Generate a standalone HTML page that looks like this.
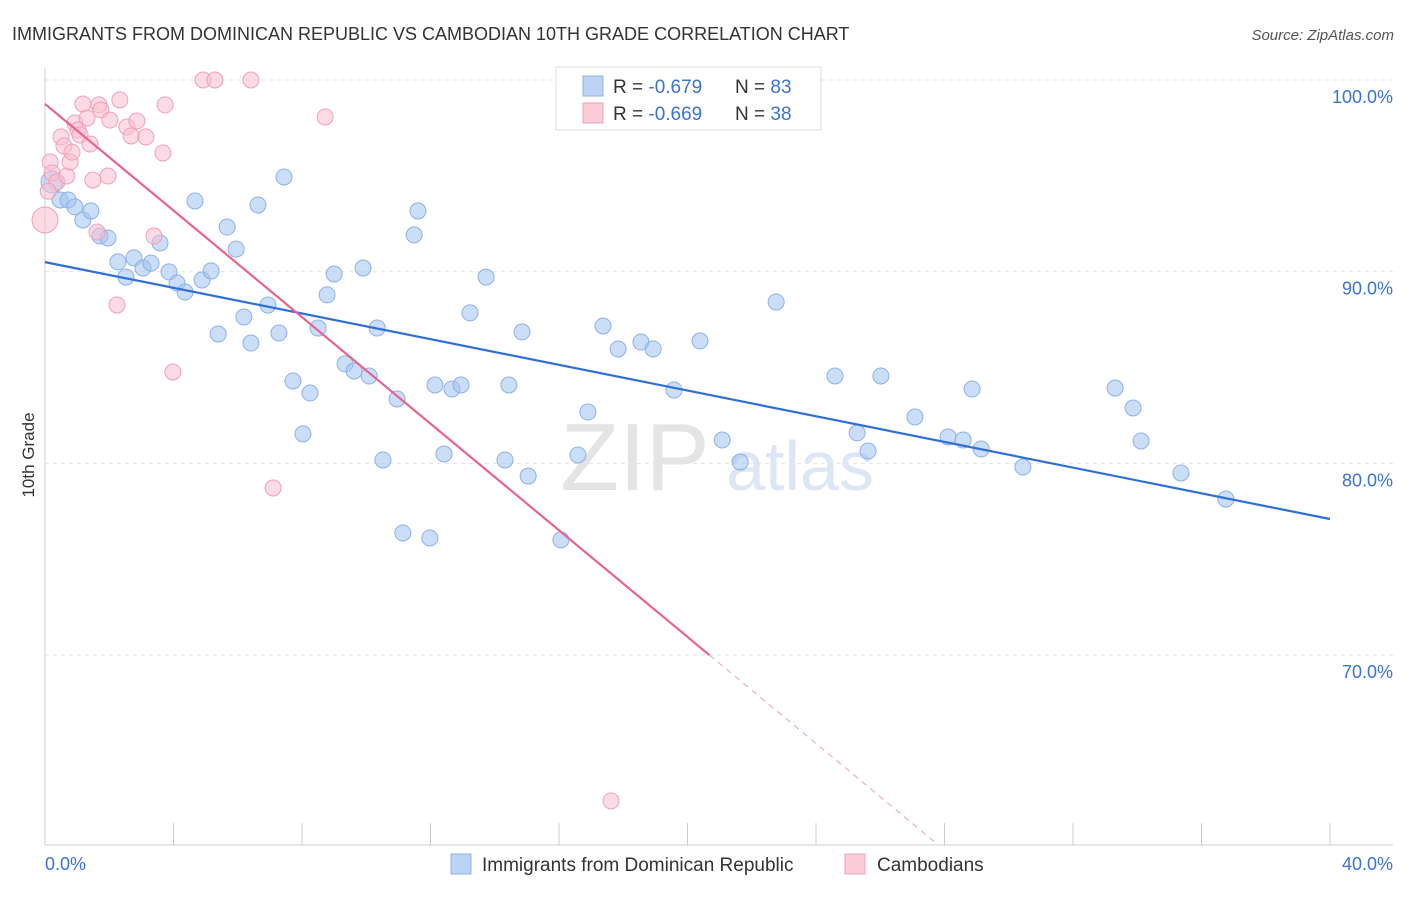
<!DOCTYPE html>
<html><head><meta charset="utf-8"><style>
body{margin:0;background:#fff;font-family:"Liberation Sans",sans-serif;}
svg text{font-family:"Liberation Sans",sans-serif;}
</style></head><body>
<svg width="1406" height="892">
<text x="12" y="40" font-size="18" fill="#333">IMMIGRANTS FROM DOMINICAN REPUBLIC VS CAMBODIAN 10TH GRADE CORRELATION CHART</text>
<text x="1394" y="40" font-size="15" fill="#555" font-style="italic" text-anchor="end">Source: ZipAtlas.com</text>
<g id="grid"></g>
<text x="635" y="490" font-size="96" fill="#e4e4e4" font-family="Liberation Serif" text-anchor="middle">ZIP</text>
<text x="800" y="490" font-size="70" fill="#dce6f4" text-anchor="middle">atlas</text>
<g id="marks"></g>
<text x="34" y="455" font-size="17" fill="#333" text-anchor="middle" transform="rotate(-90 34 455)">10th Grade</text>
<text x="45" y="870" font-size="18" fill="#3b73d3">0.0%</text>
<text x="1393" y="870" font-size="18" fill="#3b73d3" text-anchor="end">40.0%</text>
<g>
<rect x="556" y="67" width="265" height="63" fill="#fff" stroke="#ddd"/>
<rect x="583" y="76" width="20" height="20" fill="#bcd3f5" stroke="#8fb0e6"/>
<rect x="583" y="103" width="20" height="20" fill="#fbcbd8" stroke="#f0a0b8"/>
<text x="613" y="93" font-size="19" fill="#333">R = <tspan fill="#3b73d3">-0.679</tspan><tspan x="735">N = </tspan><tspan fill="#3b73d3">83</tspan></text>
<text x="613" y="120" font-size="19" fill="#333">R = <tspan fill="#3b73d3">-0.669</tspan><tspan x="735">N = </tspan><tspan fill="#3b73d3">38</tspan></text>
</g>
<g>
<rect x="451" y="854" width="20" height="20" fill="#bcd3f5" stroke="#8fb0e6"/>
<text x="482" y="871" font-size="19" fill="#333">Immigrants from Dominican Republic</text>
<rect x="845" y="854" width="20" height="20" fill="#fbcbd8" stroke="#f0a0b8"/>
<text x="877" y="871" font-size="19" fill="#333">Cambodians</text>
</g>
</svg>
<script>
const yTicks=[100,90,80,70];
const yTickLabels=["100.0%","90.0%","80.0%","70.0%"];
const xTicks=[0,4,8,12,16,20,24,28,32,36,40];
const blueX=[0.22,0.47,0.72,0.93,1.18,1.43,1.71,1.96,2.27,2.52,2.77,3.05,3.30,3.58,3.86,4.11,4.36,4.67,4.89,5.17,5.39,5.67,5.95,6.19,6.41,6.63,6.94,7.28,7.44,7.72,8.03,8.25,8.50,8.78,9.00,9.34,9.62,9.90,10.09,10.34,10.52,10.96,11.14,11.49,11.61,11.98,12.14,12.42,12.67,12.95,13.23,13.73,14.32,14.44,14.85,15.04,16.06,16.59,16.90,17.37,17.84,18.55,18.93,19.58,20.39,21.08,21.64,22.76,24.59,25.28,25.62,26.02,27.08,28.11,28.58,28.86,29.14,30.44,33.31,33.87,34.12,35.36,36.76];
const blueY=[94.68,93.74,93.74,93.38,92.70,93.17,91.86,91.76,90.51,89.72,90.72,90.19,90.45,91.50,89.99,89.41,88.94,93.69,89.57,90.04,86.75,92.33,91.18,87.64,86.28,93.48,88.26,86.80,94.94,84.30,81.54,83.67,87.06,88.79,89.88,85.19,84.82,90.19,84.56,87.06,80.18,83.36,76.37,91.92,93.17,76.11,84.09,80.49,83.88,84.09,87.85,89.72,80.18,84.09,86.86,79.34,76.01,80.44,82.68,87.17,85.97,86.33,85.97,83.83,86.39,81.22,80.07,88.42,84.56,81.59,80.65,84.56,82.42,81.38,81.22,83.88,80.75,79.81,83.93,82.89,81.17,79.50,78.14];
const pinkX=[0,0.16,0.22,0.37,0.50,0.59,0.68,0.78,0.84,0.93,1.03,1.09,1.18,1.31,1.40,1.49,1.62,1.68,1.74,1.96,2.02,2.24,2.33,2.55,2.68,2.86,3.14,3.39,3.67,3.74,3.98,4.92,5.29,6.41,7.10,8.72,17.62,0.1];
const pinkY=[92.70,95.72,95.15,94.68,97.03,96.56,94.99,95.72,96.24,97.76,97.39,97.13,98.75,98.02,96.66,94.78,92.07,98.70,98.44,94.99,97.91,88.26,98.96,97.55,97.08,97.86,97.03,91.86,96.19,98.70,84.77,100,100,100,78.72,98.07,62.39,94.2];
const blueLine=[90.5,77.1]; // y at x=0 and x=40
const pinkLine=[98.75,-1.39]; // intercept, slope
const X=v=>45+v/40*1285, Y=v=>80+(100-v)*19.17;
const NS="http://www.w3.org/2000/svg";
function mk(p,t,a){const e=document.createElementNS(NS,t);for(const k in a)e.setAttribute(k,a[k]);p.appendChild(e);return e;}
const g=document.getElementById('grid'), m=document.getElementById('marks');
yTicks.forEach((t,i)=>{
 const l=mk(g,'line',{x1:45,x2:1393,y1:Y(t),y2:Y(t),stroke:'#e2e2e2','stroke-dasharray':'4,4'});
 
 
 const tx=mk(g,'text',{x:1393,y:Y(t)+23,'font-size':18,fill:'#3b73d3','text-anchor':'end'});
 tx.textContent=yTickLabels[i];
 
 
});
const ax=mk(g,'line',{x1:45,x2:1393,y1:845,y2:845,stroke:'#ccc'});


const ay=mk(g,'line',{x1:45,x2:45,y1:68,y2:845,stroke:'#ccc'});


xTicks.forEach(t=>{
 const l=mk(g,'line',{x1:X(t),x2:X(t),y1:823,y2:845,stroke:'#ccc'});
 
 
});
blueX.forEach((x,i)=>{
 const c=mk(m,'circle',{cx:X(x),cy:Y(blueY[i]),r:i==0?11:8,fill:'rgba(160,195,240,0.55)',stroke:'#8fb0e6','stroke-width':1});
 
 
});
pinkX.forEach((x,i)=>{
 const c=mk(m,'circle',{cx:X(x),cy:Y(pinkY[i]),r:i==0?13:8,fill:'rgba(250,190,208,0.55)',stroke:'#f0a0b8','stroke-width':1});
 
 
});
const bl=mk(m,'line',{x1:X(0),y1:Y(blueLine[0]),x2:X(40),y2:Y(blueLine[1]),stroke:'#2f6fd6','stroke-width':2.2});


const xs=(70-pinkLine[0])/pinkLine[1], xe=(60.1-pinkLine[0])/pinkLine[1];
const pl=mk(m,'line',{x1:X(0),y1:Y(pinkLine[0]),x2:X(xs),y2:Y(70),stroke:'#e8648f','stroke-width':2.2});


const pd=mk(m,'line',{x1:X(xs),y1:Y(70),x2:X(xe),y2:Y(60.1),stroke:'#e8a0b8','stroke-width':1,'stroke-dasharray':'6,5'});


</script>
</body></html>
